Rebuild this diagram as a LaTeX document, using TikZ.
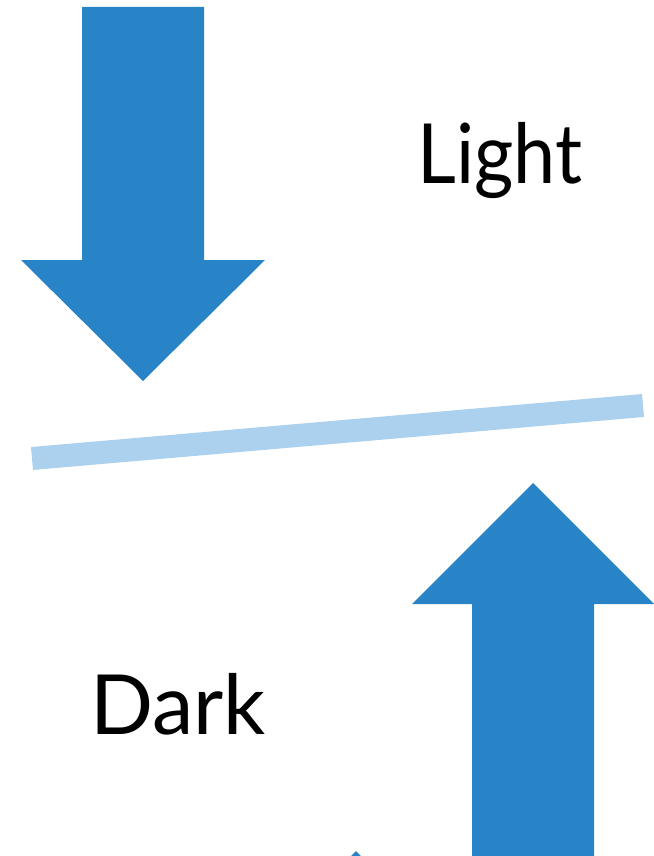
\documentclass[tikz,border=0pt]{standalone}
\usepackage{fontspec}
\setmainfont{Lato}
\definecolor{arrowblue}{HTML}{2884C7}
\definecolor{paleblue}{HTML}{ABD1EE}
\begin{document}
\begin{tikzpicture}[x=1pt,y=-1pt,
  bigarrow/.style={fill=arrowblue,draw=none},
  label/.style={font=\fontsize{83}{90}\selectfont,inner sep=0pt,text=black}]
\useasboundingbox (0,0) rectangle (653,856);
% incoming light from above
\fill[bigarrow] (82,7) -- (204,7) -- (204,260) -- (265,260) -- (143,381)
  -- (21,260) -- (82,260) -- cycle;
% tilted surface
\draw[paleblue,line width=23pt] (32,458.5) -- (643,405.5);
% arrow rising from below
\fill[bigarrow] (472,856) -- (472,604) -- (412,604) -- (533,483)
  -- (654,604) -- (594,604) -- (594,856) -- cycle;
% tip of a further arrow at the lower edge
\fill[bigarrow] (356,851) -- (361,856) -- (351,856) -- cycle;
\node[label,anchor=base west,xscale=0.91] (light) at (417,183) {Light};
\node[label,anchor=base west] (dark) at (90,734) {Dark};
\end{tikzpicture}
\end{document}
